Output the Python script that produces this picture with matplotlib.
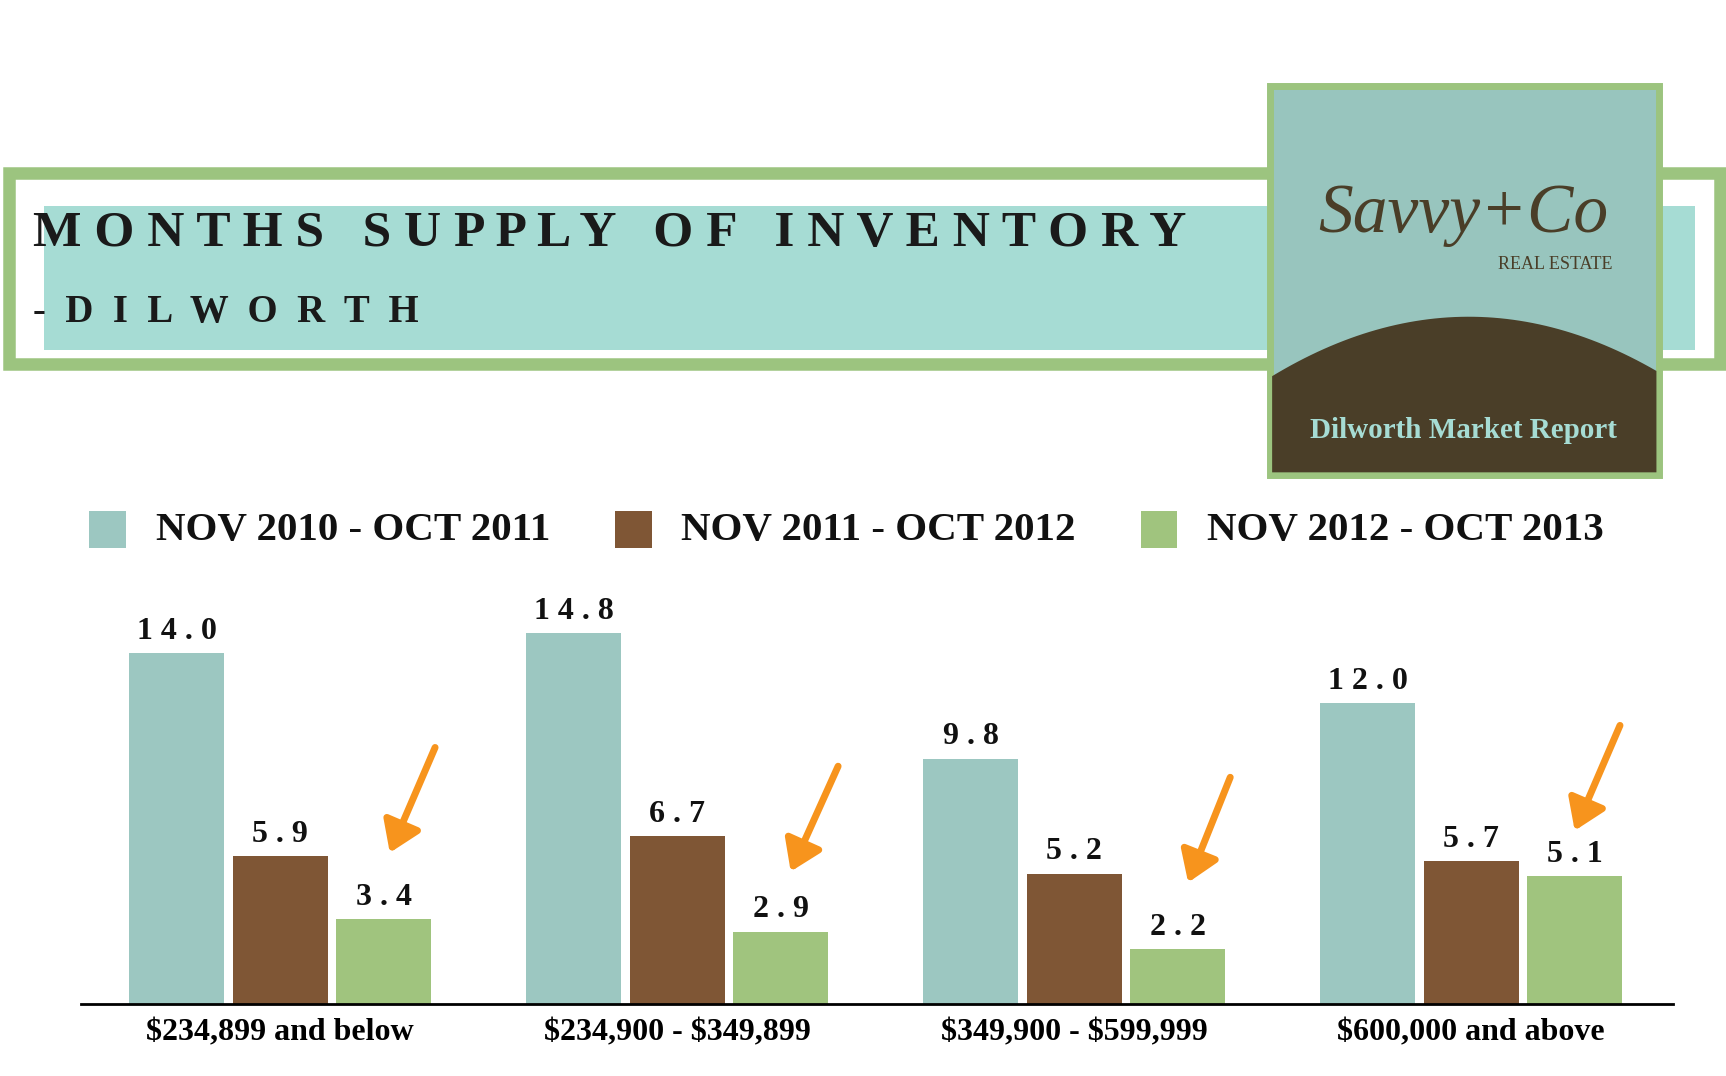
import matplotlib
matplotlib.use("Agg")
import matplotlib.pyplot as plt
from matplotlib.patches import Rectangle, Polygon, FancyArrowPatch
import numpy as np

plt.rcParams["text.parse_math"] = False

categories = ["$234,899 and below", "$234,900 - $349,899", "$349,900 - $599,999", "$600,000 and above"]
series_names = ["NOV 2010 - OCT 2011", "NOV 2011 - OCT 2012", "NOV 2012 - OCT 2013"]
s1 = [14.0, 14.8, 9.8, 12.0]
s2 = [5.9, 6.7, 5.2, 5.7]
s3 = [3.4, 2.9, 2.2, 5.1]
colors = ["#9cc7c1", "#7f5635", "#a0c47e"]

W, H = 1563, 975
def fx(x): return x / W
def fy(y): return 1 - y / H

fig = plt.figure(figsize=(17.26, 10.76), dpi=100)
serif = "Liberation Serif"

# Banner
fig.patches.append(Rectangle((fx(8), fy(330)), fx(1558) - fx(8), fy(157) - fy(330), transform=fig.transFigure,
                             fill=False, ec="#9cc47f", lw=9))
fig.patches.append(Rectangle((fx(40), fy(317)), fx(1535) - fx(40), fy(187) - fy(317), transform=fig.transFigure,
                             fc="#a6dcd4", ec="none"))
fig.text(fx(30), fy(212), "M O N T H S   S U P P L Y   O F   I N V E N T O R Y", fontsize=37, fontweight="bold",
         family=serif, color="#1a1a1a", va="center")
fig.text(fx(30), fy(283), "-  D  I  L  W  O  R  T  H", fontsize=28, fontweight="bold", family=serif, color="#1a1a1a", va="center")

# Logo
fig.patches.append(Rectangle((fx(1150), fy(430)), fx(1502) - fx(1150), fy(78) - fy(430), transform=fig.transFigure,
                             fc="#98c5be", ec="#9cc47f", lw=5, zorder=3))
xs = np.linspace(1152, 1500, 60)
hill = 287 + (xs - 1330) ** 2 * 0.0017
pts = [(fx(x), fy(min(h, 360))) for x, h in zip(xs, hill)] + [(fx(1500), fy(428)), (fx(1152), fy(428))]
fig.patches.append(Polygon(pts, closed=True, transform=fig.transFigure, fc="#4a3e28", ec="none", zorder=4))
fig.text(fx(1325), fy(195), "Savvy+Co", fontsize=50, family=serif, style="italic", color="#4a3e28", ha="center", va="center", zorder=5)
fig.text(fx(1408), fy(240), "REAL ESTATE", fontsize=13, family=serif, color="#4a3e28", ha="center", va="center", zorder=5)
fig.text(fx(1325), fy(390), "Dilworth Market Report", fontsize=21, fontweight="bold", family=serif,
         color="#a6dcd4", ha="center", va="center", zorder=5)

# Legend
for i, (name, c) in enumerate(zip(series_names, colors)):
    x0 = 81 + i * 476
    fig.patches.append(Rectangle((fx(x0), fy(497)), fx(33), fy(0) - fy(34), transform=fig.transFigure, fc=c, ec="none"))
    fig.text(fx(x0 + 60), fy(481), name, fontsize=29.5, fontweight="bold", family=serif, color="#111", va="center")

# Axes
ax = fig.add_axes([fx(73), fy(910), fx(1515) - fx(73), fy(540) - fy(910)])
ymax = (910 - 540) / ((910 - 592) / 14.0)
ax.set_ylim(0, ymax)
step = 360
centers = np.arange(4) * step
bw, off = 86, 94
ax.set_xlim(centers[0] - 181, centers[-1] + 183)
for k, (vals, c) in enumerate(zip([s1, s2, s3], colors)):
    xpos = centers + (k - 1) * off
    ax.bar(xpos, vals, width=bw, color=c)
    for x, v in zip(xpos, vals):
        ax.text(x, v + 0.3, " ".join(f"{v:.1f}"), ha="center", va="bottom", fontsize=23, fontweight="bold",
                family=serif, color="#111")
ax.set_xticks(centers)
ax.set_xticklabels(categories, fontsize=23, fontweight="bold", family=serif)
ax.tick_params(axis="x", length=0, pad=10)
ax.set_yticks([])
for s in ["top", "left", "right"]:
    ax.spines[s].set_visible(False)
ax.spines["bottom"].set_linewidth(2)

# Arrows
arrows = [(395, 675, 352, 775), (760, 692, 715, 792), (1115, 702, 1075, 802), (1468, 655, 1425, 755)]
for x0, y0, x1, y1 in arrows:
    fig.patches.append(FancyArrowPatch((fx(x0), fy(y0)), (fx(x1), fy(y1)), transform=fig.transFigure,
                                       arrowstyle="-|>,head_length=0.9,head_width=0.6", mutation_scale=20,
                                       color="#f7941d", lw=5))

fig.savefig("out.png", dpi=100, facecolor="white")
